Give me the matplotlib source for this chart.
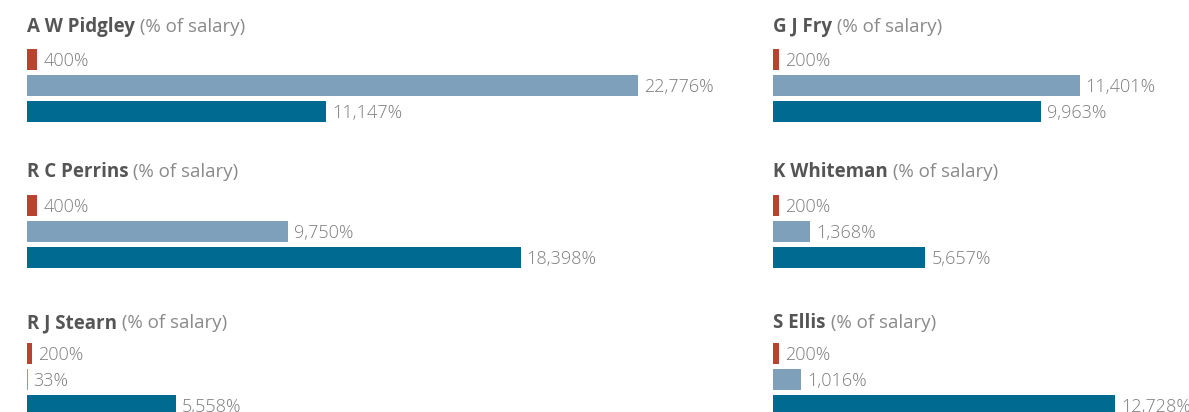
import matplotlib
matplotlib.use("Agg")
import matplotlib.pyplot as plt

# data
names = ['A W Pidgley', 'R C Perrins', 'R J Stearn', 'G J Fry', 'K Whiteman', 'S Ellis']
red_vals = [400, 400, 200, 200, 200, 200]
light_vals = [22776, 9750, 33, 11401, 1368, 1016]
dark_vals = [11147, 18398, 5558, 9963, 5657, 12728]

colors = ['#b8432f', '#7fa0ba', '#006a91']

W, H = 1189, 412
fig = plt.figure(figsize=(W / 100, H / 100), dpi=100)
plt.rcParams['font.family'] = ['Open Sans', 'DejaVu Sans']

scale = 0.02685          # px per percentage point (same across all panels)
col_left = [26.7, 773.5]  # px where bars start
row_center = [59.5, 205.5, 353.5]  # px of first bar centre
title_base = [32.3, 177.3, 328.0]  # px baseline of panel titles
step = 26.0               # px between bars

renderer = fig.canvas.get_renderer()

for i, name in enumerate(names):
    col, row = i // 3, i % 3
    left = col_left[col]
    c = row_center[row]
    width_px = W - left
    top = c - step / 2
    height_px = 3 * step
    ax = fig.add_axes([left / W, 1 - (top + height_px) / H, width_px / W, height_px / H])
    ax.set_xlim(0, width_px / scale)
    ax.set_ylim(2.5, -0.5)
    ax.axis('off')

    vals = [red_vals[i], light_vals[i], dark_vals[i]]
    ax.barh(range(3), vals, height=21 / 26, color=colors, left=0)
    for j, v in enumerate(vals):
        ax.annotate('{:,}%'.format(v), (v, j), xytext=(6, 0), textcoords='offset pixels',
                    va='center_baseline', ha='left', fontsize=13, color='#7d7d7d',
                    fontweight='light', clip_on=False)

    # two-part title: bold name + lighter suffix
    yb = 1 - title_base[row] / H
    t1 = fig.text(left / W, yb, name, fontsize=13.5, fontweight='bold', color='#555555',
                  va='baseline', ha='left')
    bb = t1.get_window_extent(renderer)
    fig.text(bb.x1 / W, yb, ' (% of salary)', fontsize=13.5, color='#8a8a8a',
             va='baseline', ha='left')

fig.savefig('out.png', dpi=100)
